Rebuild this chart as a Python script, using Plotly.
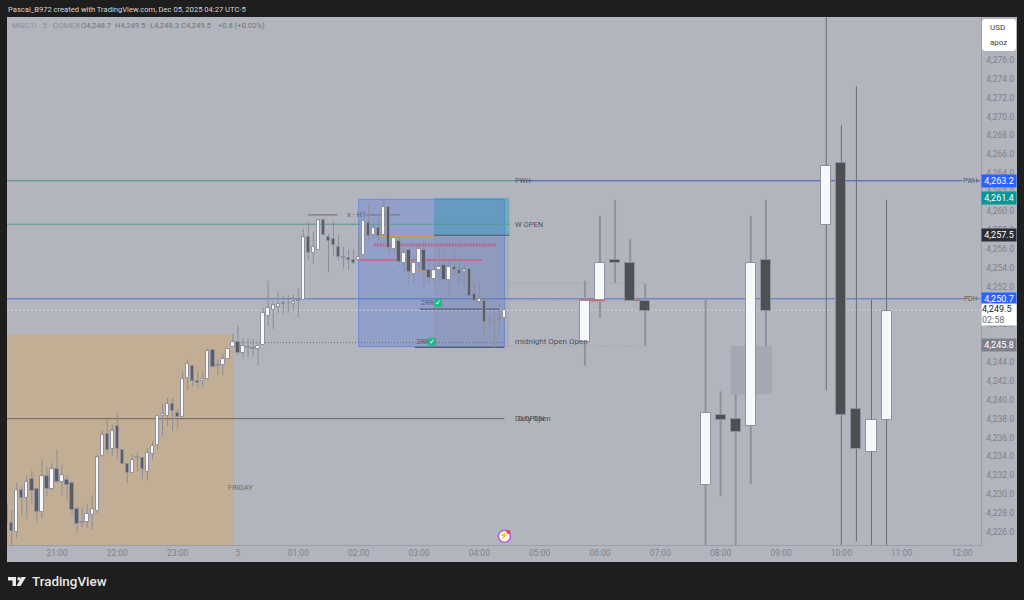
import pandas as pd
import plotly.graph_objects as go

W, H = 1024, 600
DAY1 = '2025-12-04 '
DAY2 = '2025-12-05 '

# 5 minute bars, 20:10 -> 04:25
bar_times = pd.date_range(DAY1 + '20:10', DAY2 + '04:25', freq='5min')
opens = [
    4229.0, 4227.0, 4226.0, 4230.4, 4229.6, 4231.6, 4230.6, 4228.1, 4231.9, 4230.6,
    4232.7, 4231.3, 4231.5, 4231.2, 4228.4, 4226.9, 4227.1, 4227.8, 4228.2, 4234.1,
    4236.4, 4234.8, 4237.2, 4234.7, 4233.2, 4232.3, 4233.9, 4233.8, 4232.4, 4234.3,
    4235.2, 4238.3, 4238.3, 4239.6, 4238.6, 4238.2, 4242.3, 4243.6, 4242.0, 4242.0,
    4242.2, 4245.3, 4243.6, 4243.7, 4244.3, 4245.6, 4246.1, 4245.0, 4245.6, 4245.5,
    4245.4, 4245.8, 4248.9, 4249.5, 4249.8, 4250.3, 4250.3, 4250.2, 4250.6, 4250.6,
    4257.2, 4255.6, 4255.9, 4259.0, 4257.2, 4257.0, 4256.2, 4255.1, 4255.0, 4254.8,
    4254.8, 4255.3, 4258.7, 4257.5, 4258.2, 4257.5, 4260.4, 4256.0, 4256.8, 4254.5,
    4255.9, 4253.3, 4254.5, 4255.9, 4253.8, 4252.8, 4253.7, 4254.3, 4252.7, 4254.1,
    4253.7, 4253.5, 4253.9, 4251.2, 4250.4, 4250.5, 4248.3, 4248.4, 4248.6, 4248.7,
]
highs = [
    4229.0, 4228.3, 4231.2, 4230.8, 4232.1, 4232.5, 4230.6, 4233.7, 4232.9, 4233.3,
    4234.7, 4233.1, 4232.0, 4231.2, 4228.7, 4228.6, 4229.0, 4229.9, 4234.2, 4236.8,
    4237.9, 4237.4, 4238.6, 4234.7, 4233.2, 4234.3, 4234.4, 4233.8, 4234.9, 4235.6,
    4238.3, 4239.6, 4240.2, 4240.2, 4239.0, 4243.0, 4244.3, 4243.6, 4243.0, 4243.0,
    4245.5, 4245.3, 4244.3, 4244.9, 4245.4, 4247.0, 4247.9, 4246.5, 4246.5, 4246.4,
    4246.0, 4249.7, 4252.6, 4250.4, 4251.4, 4251.0, 4251.1, 4251.1, 4251.8, 4258.1,
    4258.9, 4257.8, 4259.1, 4259.2, 4257.6, 4258.9, 4257.5, 4256.2, 4255.9, 4255.9,
    4257.6, 4258.9, 4260.7, 4258.9, 4259.4, 4261.3, 4260.4, 4257.3, 4257.3, 4256.1,
    4255.9, 4255.0, 4256.6, 4257.0, 4254.8, 4255.0, 4256.4, 4255.5, 4255.0, 4255.9,
    4255.0, 4254.3, 4253.9, 4252.5, 4252.3, 4250.9, 4249.0, 4249.2, 4250.2, 4249.5,
]
lows = [
    4224.7, 4224.6, 4225.3, 4227.8, 4227.4, 4229.0, 4227.0, 4227.4, 4229.8, 4230.4,
    4231.2, 4229.9, 4229.4, 4227.8, 4226.0, 4226.5, 4226.5, 4226.2, 4228.0, 4234.0,
    4234.3, 4234.0, 4233.7, 4233.2, 4231.2, 4232.3, 4232.4, 4231.6, 4231.5, 4233.7,
    4234.7, 4236.2, 4237.2, 4236.7, 4237.0, 4238.2, 4241.0, 4241.4, 4241.3, 4241.4,
    4242.1, 4243.5, 4242.6, 4242.6, 4244.3, 4245.6, 4244.7, 4244.5, 4244.5, 4244.6,
    4243.6, 4245.8, 4247.9, 4247.5, 4249.2, 4249.0, 4249.2, 4249.4, 4248.7, 4250.6,
    4254.8, 4254.4, 4255.9, 4257.4, 4253.5, 4255.3, 4254.8, 4253.9, 4253.8, 4254.4,
    4254.7, 4255.3, 4256.9, 4257.1, 4256.9, 4257.4, 4255.5, 4255.7, 4254.2, 4253.6,
    4252.4, 4252.3, 4253.6, 4251.5, 4252.3, 4252.4, 4252.5, 4252.7, 4250.7, 4253.2,
    4252.3, 4252.1, 4250.5, 4250.5, 4250.0, 4246.7, 4247.8, 4245.5, 4246.9, 4248.3,
]
closes = [
    4227.0, 4226.1, 4230.4, 4229.6, 4231.3, 4230.3, 4228.1, 4231.9, 4230.5, 4232.7,
    4231.3, 4232.0, 4231.0, 4228.3, 4226.8, 4227.1, 4227.9, 4228.4, 4233.9, 4236.3,
    4234.7, 4236.7, 4234.8, 4233.2, 4232.3, 4233.6, 4233.8, 4232.7, 4234.4, 4235.1,
    4238.3, 4238.5, 4239.6, 4238.8, 4238.2, 4242.2, 4243.8, 4242.0, 4241.8, 4242.2,
    4245.2, 4243.5, 4243.7, 4244.3, 4245.4, 4246.1, 4245.0, 4245.7, 4245.5, 4245.4,
    4245.7, 4249.2, 4249.7, 4250.0, 4250.1, 4250.2, 4250.3, 4250.4, 4250.5, 4257.2,
    4255.5, 4256.2, 4259.0, 4257.5, 4256.8, 4256.4, 4255.1, 4255.0, 4254.8, 4254.5,
    4255.1, 4258.9, 4257.4, 4258.2, 4257.4, 4260.4, 4256.1, 4257.1, 4254.6, 4255.6,
    4253.5, 4254.5, 4256.0, 4253.6, 4252.9, 4253.7, 4254.1, 4252.7, 4254.1, 4253.7,
    4253.3, 4253.8, 4251.0, 4250.5, 4250.7, 4248.2, 4248.5, 4248.3, 4248.5, 4249.5,
]

# projected 15 minute candles, thick wicks
ltf_times = [DAY2 + t for t in ['05:45', '06:00', '06:15', '06:30', '06:45', '07:45', '08:00', '08:15', '08:30', '08:45']]
ltf_open = [4246.1, 4250.6, 4254.8, 4254.5, 4250.5, 4231.0, 4238.4, 4238.0, 4237.2, 4254.8]
ltf_high = [4252.6, 4259.5, 4261.2, 4257.0, 4252.3, 4250.6, 4240.9, 4240.6, 4259.5, 4261.2]
ltf_low = [4243.6, 4248.7, 4252.4, 4250.5, 4245.7, 4224.6, 4229.8, 4224.6, 4231.1, 4245.7]
ltf_close = [4250.5, 4254.5, 4254.5, 4250.5, 4249.4, 4238.6, 4237.9, 4236.6, 4254.5, 4249.4]

# same, thin wicks
htf_times = [DAY2 + t for t in ['09:45', '10:00', '10:15', '10:30', '10:45']]
htf_open = [4258.5, 4265.1, 4239.0, 4234.5, 4237.9]
htf_high = [4284.0, 4269.1, 4273.2, 4250.6, 4261.2]
htf_low = [4241.0, 4224.6, 4225.0, 4224.6, 4224.6]
htf_close = [4264.8, 4238.4, 4234.8, 4237.9, 4249.4]

# price levels
PWH = 4263.2
PDH = 4250.7
W_OPEN = 4258.6
DAILY_OPEN = 4238.0
MIDNIGHT_OPEN = 4246.05
LAST_PRICE = 4249.5
H1_LEVEL = 4259.6
RR2 = 4249.6
RR3 = 4245.55

price_ticks = [4226 + 2 * i for i in range(26)]
time_ticks = [DAY1 + '21:00', DAY1 + '22:00', DAY1 + '23:00', DAY2 + '00:00', DAY2 + '01:00', DAY2 + '02:00',
              DAY2 + '03:00', DAY2 + '04:00', DAY2 + '05:00', DAY2 + '06:00', DAY2 + '07:00', DAY2 + '08:00',
              DAY2 + '09:00', DAY2 + '10:00', DAY2 + '11:00', DAY2 + '12:00']
time_labels = ['21:00', '22:00', '23:00', '5', '01:00', '02:00', '03:00', '04:00', '05:00', '06:00', '07:00',
               '08:00', '09:00', '10:00', '11:00', '12:00']

X_START = DAY1 + '20:10:18'
X_END = DAY2 + '12:18:24'
Y_MIN, Y_MAX = 4224.62, 4280.55

LABEL = '#4f525c'
AXIS_TEXT = '#7f828c'


def add_candles(fig, times, o, h, l, c, width_min, up_fill, down_fill, edge, wick, wick_width):
    wick_x, wick_y = [], []
    up_x, up_base, up_h = [], [], []
    down_x, down_base, down_h = [], [], []
    for t, oo, hh, ll, cc in zip(times, o, h, l, c):
        top, bottom = max(oo, cc), min(oo, cc)
        # wick stops at the body, scatter would paint over the bars otherwise
        wick_x += [t, t, None, t, t, None]
        wick_y += [hh, top, None, bottom, ll, None]
        if cc > oo:
            up_x.append(t)
            up_base.append(bottom)
            up_h.append(top - bottom)
        else:
            down_x.append(t)
            down_base.append(bottom)
            down_h.append(top - bottom)
    fig.add_trace(go.Scatter(x=wick_x, y=wick_y, mode='lines', line=dict(color=wick, width=wick_width),
                             hoverinfo='skip', connectgaps=False))
    for xs, base, height, fill in [(up_x, up_base, up_h, up_fill), (down_x, down_base, down_h, down_fill)]:
        fig.add_trace(go.Bar(x=xs, y=height, base=base, width=width_min * 60000,
                             marker=dict(color=fill, line=dict(color=edge, width=1))))


def hline(price, x0, x1, color, width=1, dash='solid'):
    fig.add_shape(type='line', x0=x0, x1=x1, y0=price, y1=price, layer='below',
                  line=dict(color=color, width=width, dash=dash))


def zone(x0, x1, y0, y1, color, line=None):
    fig.add_shape(type='rect', x0=x0, x1=x1, y0=y0, y1=y1, layer='below', fillcolor=color,
                  line=dict(color=line or 'rgba(0,0,0,0)', width=1))


def label(text, x, y, size=7.5, color=LABEL, anchor='left'):
    fig.add_annotation(text=text, x=x, y=y, xanchor=anchor, yanchor='middle', showarrow=False,
                       font=dict(size=size, color=color))


def tag(text, price, bg, color='#ffffff'):
    fig.add_annotation(text=text, xref='paper', x=998.5 / W, xanchor='center', y=price, yanchor='middle',
                       showarrow=False, bgcolor=bg, width=34, height=12, borderpad=0,
                       font=dict(size=9, color=color))


def page_text(text, x, y, size, color, weight=None):
    fig.add_annotation(text=text, xref='paper', yref='paper', x=x / W, y=1 - y / H,
                       xanchor='left', yanchor='middle', showarrow=False,
                       font=dict(size=size, color=color, weight=weight))


fig = go.Figure()

# chart panel and background zones
fig.add_shape(type='rect', xref='paper', yref='paper', x0=7 / W, x1=1017 / W, y0=1 - 562 / H, y1=1 - 17 / H,
              fillcolor='#b2b5be', line=dict(width=0), layer='below')
zone(X_START, DAY1 + '23:56', 4246.97, Y_MIN, '#c2ae94')
zone(DAY2 + '03:15', DAY2 + '04:30', 4257.43, 4261.4, 'rgba(60,165,165,0.55)')
zone(DAY2 + '02:00', DAY2 + '04:25', 4245.63, 4261.24, 'rgba(80,115,225,0.32)', 'rgba(70,120,235,0.6)')
zone(DAY2 + '03:15', DAY2 + '04:30', 4245.63, 4257.43, 'rgba(130,130,130,0.14)')
zone(DAY2 + '08:10', DAY2 + '08:51', 4240.6, 4245.7, '#a5a8b2')

# levels
hline(PWH, X_START, DAY2 + '04:40', '#4f8d82')
hline(PWH, DAY2 + '04:40', DAY2 + '12:00', '#3a58bd')
hline(PWH, DAY2 + '12:14', X_END, '#3a58bd')
hline(W_OPEN, X_START, DAY2 + '04:30', '#4f9a8f')
hline(PDH, X_START, DAY2 + '12:02', '#5272cc')
hline(PDH, DAY2 + '12:14', X_END, '#5272cc')
hline(DAILY_OPEN, X_START, DAY2 + '04:25', '#66645f')
hline(LAST_PRICE, X_START, X_END, '#d5d7dd', 1, '2px,2px')
hline(MIDNIGHT_OPEN, DAY2 + '00:00', DAY2 + '04:25', '#666974', 1, '1px,2px')
for level in [4252.35, 4250.5, 4245.7]:
    hline(level, DAY2 + '04:25', DAY2 + '06:45', '#989ba5', 1, '1px,2px')
hline(4257.36, DAY2 + '02:20', DAY2 + '03:15', '#cf9a4e', 2)
hline(4257.43, DAY2 + '03:15', DAY2 + '04:30', '#4a5a70', 1)
hline(4253.65, DAY2 + '02:54', DAY2 + '03:15', '#cf9a4e', 2)
hline(4256.4, DAY2 + '02:15', DAY2 + '04:17', 'rgba(190,85,125,0.65)', 3.5, '2px,1px')
hline(4254.8, DAY2 + '02:00', DAY2 + '04:03', '#d65a80', 1.5)
hline(H1_LEVEL, DAY2 + '01:10', DAY2 + '01:39', '#767984', 1.2)
hline(H1_LEVEL, DAY2 + '02:07', DAY2 + '02:41', '#767984', 1.2)
hline(RR2, DAY2 + '03:01', DAY2 + '04:20', '#565b78', 1.2)
hline(RR3, DAY2 + '02:56', DAY2 + '04:25', '#565b78', 1.2)
hline(4250.55, DAY2 + '05:40', DAY2 + '06:05', '#d9606e', 2)
hline(4250.55, DAY2 + '06:25', DAY2 + '06:40', '#d9606e', 1.5)

# candles
add_candles(fig, bar_times, opens, highs, lows, closes, 3.3, '#f7f8fa', '#5a5c68', '#8f929c', '#8b8e99', 1)
add_candles(fig, ltf_times, ltf_open, ltf_high, ltf_low, ltf_close, 10, '#f7f8fa', '#4e4f52', '#8f929c', '#8f929c', 2)
add_candles(fig, htf_times, htf_open, htf_high, htf_low, htf_close, 10, '#f7f8fa', '#4e4f52', '#8f929c', '#6a6d78', 1)

# check boxes and the bolt
fig.add_trace(go.Scatter(x=[DAY2 + '03:19', DAY2 + '03:13'], y=[4250.25, 4246.15], mode='markers+text',
                         marker=dict(symbol='square', size=8, color='#1fb98a'), text=['✓', '✓'],
                         textposition='middle center', textfont=dict(size=7, color='#ffffff')))
fig.add_trace(go.Scatter(x=[DAY2 + '04:25'], y=[4225.55], mode='markers+text',
                         marker=dict(size=12, color='#ffffff', line=dict(color='#b45cd6', width=1.5)),
                         text=['⚡'], textposition='middle center', textfont=dict(size=8, color='#a63fd0')))
fig.add_trace(go.Scatter(x=[DAY2 + '04:29'], y=[4226.0], mode='markers', marker=dict(size=4, color='#f23645')))

# drawing labels
label('x - H1', DAY2 + '01:46', H1_LEVEL, 7.5, '#5c5f69')
label('PWH', DAY2 + '04:33', PWH, 7)
label('W OPEN', DAY2 + '04:33', W_OPEN)
label('Daily Open', DAY2 + '04:33', DAILY_OPEN)
label('D.OPEN', DAY2 + '04:36', DAILY_OPEN)
label('midnight Open', DAY2 + '04:33', 4246.2, 8)
label('Open', DAY2 + '05:27', 4246.2, 8)
label('FRIDAY', DAY1 + '23:48', 4230.66, 7.5, '#6f6a5c')
label('2RR', DAY2 + '03:00', 4250.25, 7, '#565b78')
label('3RR', DAY2 + '02:55', 4246.15, 7, '#565b78')
label('PWH', DAY2 + '12:08', PWH, 6.5, anchor='center')
label('PDH', DAY2 + '12:08', PDH, 6.5, anchor='center')

# price tags
tag('4,263.2', PWH, '#2962ff')
tag('4,261.4', 4261.4, '#00979a')
tag('4,257.5', 4257.5, '#2a2e39')
tag('4,250.7', PDH, '#2962ff')
fig.add_annotation(text='<span style="color:#131722">4,249.5</span><br><span style="color:#6a6d78">02:58</span>',
                   xref='paper', x=998.5 / W, xanchor='center', y=4249.05, yanchor='middle', showarrow=False,
                   bgcolor='#ffffff', width=34, height=21, borderpad=0, font=dict(size=9), align='left')
tag('4,245.8', 4245.8, '#7e818c')

# currency box
fig.add_shape(type='path', xref='paper', yref='paper', fillcolor='#ffffff', line=dict(width=0),
              path='M %f,%f L %f,%f Q %f,%f %f,%f L %f,%f Q %f,%f %f,%f L %f,%f Q %f,%f %f,%f L %f,%f Q %f,%f %f,%f Z' % (
                  984 / W, 1 - 19 / H, 1013 / W, 1 - 19 / H, 1016 / W, 1 - 19 / H, 1016 / W, 1 - 22 / H,
                  1016 / W, 1 - 48 / H, 1016 / W, 1 - 51 / H, 1013 / W, 1 - 51 / H,
                  985 / W, 1 - 51 / H, 982 / W, 1 - 51 / H, 982 / W, 1 - 48 / H,
                  982 / W, 1 - 22 / H, 982 / W, 1 - 19 / H, 985 / W, 1 - 19 / H))
page_text('USD', 988, 27, 8, '#3d3f47')
page_text('apoz', 988, 42, 8, '#3d3f47')

# header and legend
page_text('Pascal_B972 created with TradingView.com, Dec 05, 2025 04:27 UTC-5', 6, 9, 7.6, '#d6d6d6')
page_text('MGC1! · 5 · COMEX', 10, 25.5, 8, '#8a8d97')
page_text('O4,248.7', 79, 25.5, 7.6, '#6f727c')
page_text('H4,249.5', 113, 25.5, 7.6, '#6f727c')
page_text('L4,248.3', 148, 25.5, 7.6, '#6f727c')
page_text('C4,249.5', 179, 25.5, 7.6, '#6f727c')
page_text('+0.8 (+0.02%)', 216, 25.5, 7.6, '#6f727c')

# logo
page_text('TradingView', 30, 581.5, 13.4, '#e8e8e8', 500)
fig.add_shape(type='path', xref='paper', yref='paper', fillcolor='#e8e8e8', line=dict(width=0),
              path='M %f,%f L %f,%f L %f,%f L %f,%f L %f,%f L %f,%f Z' % (
                  8 / W, 1 - 577 / H, 16 / W, 1 - 577 / H, 16 / W, 1 - 586 / H, 12.5 / W, 1 - 586 / H,
                  12.5 / W, 1 - 580.5 / H, 8 / W, 1 - 580.5 / H))
fig.add_shape(type='path', xref='paper', yref='paper', fillcolor='#e8e8e8', line=dict(width=0),
              path='M %f,%f L %f,%f L %f,%f L %f,%f Z' % (
                  21.5 / W, 1 - 577 / H, 26 / W, 1 - 577 / H, 20.5 / W, 1 - 586 / H, 16.5 / W, 1 - 586 / H))
fig.add_shape(type='circle', xref='paper', yref='paper', fillcolor='#e8e8e8', line=dict(width=0),
              x0=17.2 / W, x1=20.8 / W, y0=1 - 580.6 / H, y1=1 - 577 / H)

fig.update_layout(
    width=W, height=H,
    margin=dict(l=0, r=0, t=0, b=0),
    paper_bgcolor='#1e1e1e',
    plot_bgcolor='rgba(0,0,0,0)',
    barmode='overlay',
    bargap=0,
    showlegend=False,
    hovermode=False,
    font=dict(family='Roboto, sans-serif'),
    xaxis=dict(type='date', domain=[7 / W, 980.5 / W], range=[X_START, X_END], tickmode='array',
               tickvals=time_ticks, ticktext=time_labels, showgrid=False, zeroline=False, ticks='',
               tickangle=0, tickfont=dict(size=8.5, color=AXIS_TEXT), showline=True, linecolor='#9a9da7',
               linewidth=1, ticklabelstandoff=0),
    yaxis=dict(domain=[1 - 545 / H, 1 - 17 / H], range=[Y_MIN, Y_MAX], side='right', tickmode='array',
               tickvals=price_ticks, tickformat=',.1f', showgrid=False, zeroline=False, ticks='',
               tickfont=dict(size=8.5, color=AXIS_TEXT), showline=True, linecolor='#9a9da7', linewidth=1,
               ticklabelstandoff=3),
)

fig.write_html('out.html', config=dict(displayModeBar=False),
               post_script="document.body.style.margin='0';document.documentElement.style.overflow='hidden';")
